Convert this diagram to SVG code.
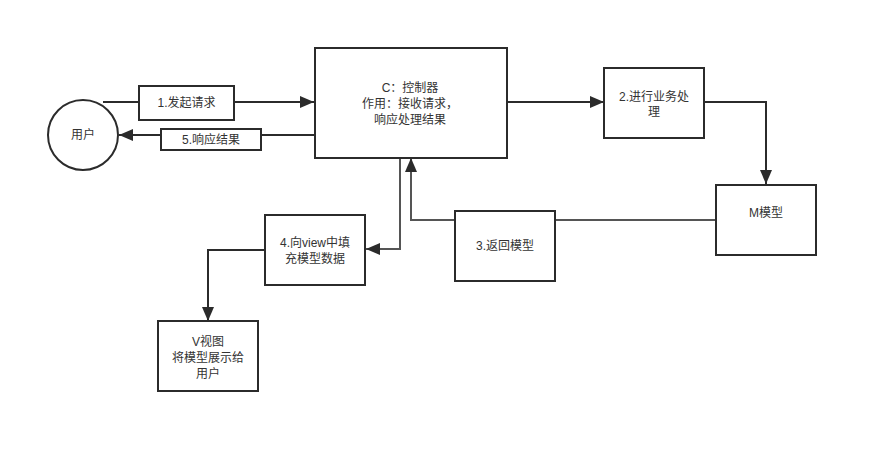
<svg xmlns="http://www.w3.org/2000/svg" width="878" height="453" viewBox="0 0 878 453">
<style>
.n{fill:#fff;stroke:#2b2b2b;stroke-width:2}
.t{font-family:"Liberation Sans","Noto Sans CJK SC",sans-serif;font-size:12px;fill:#333;text-anchor:middle}
.c{fill:none;stroke:#2b2b2b;stroke-width:2}
.g{fill:none;stroke:#555;stroke-width:2}
</style>
<defs>
<marker id="a" viewBox="0 0 10 10" refX="10" refY="5" markerWidth="7" markerHeight="7" markerUnits="userSpaceOnUse" orient="auto">
<path d="M0,0 L10,5 L0,10 z" fill="#2b2b2b"/>
</marker>
<marker id="b" viewBox="0 0 10 10" refX="10" refY="5" markerWidth="14" markerHeight="12" markerUnits="userSpaceOnUse" orient="auto" preserveAspectRatio="none">
<path d="M0,0 L10,5 L0,10 z" fill="#2b2b2b"/>
</marker>
</defs>
<rect width="878" height="453" fill="#fff"/>
<g id="connectors">
<path class="c" d="M103,102 H314" marker-end="url(#b)"/>
<path class="c" d="M314,135 H119" marker-end="url(#b)"/>
<path class="c" d="M507,102 H604" marker-end="url(#b)"/>
<path class="c" d="M704,102 H766 V184" marker-end="url(#b)"/>
<path class="g" d="M716,220 H411 V158" marker-end="url(#b)"/>
<path class="g" d="M400,158 V249 H366" marker-end="url(#b)"/>
<path class="c" d="M265,250 H208 V321" marker-end="url(#b)"/>
</g>
<g id="user">
<circle class="n" cx="83" cy="135" r="35"/>
<text class="t" x="83" y="139">用户</text>
</g>
<g id="req">
<rect class="n" x="139" y="86" width="95" height="34"/>
<text class="t" x="186.5" y="107">1.发起请求</text>
</g>
<g id="resp">
<rect class="n" x="161" y="129" width="100" height="21"/>
<text class="t" x="211" y="144">5.响应结果</text>
</g>
<g id="controller">
<rect class="n" x="315" y="48" width="192" height="110"/>
<text class="t" x="410" y="92">C：控制器</text>
<text class="t" x="410" y="108">作用：接收请求，</text>
<text class="t" x="410" y="124">响应处理结果</text>
</g>
<g id="business">
<rect class="n" x="604" y="68" width="100" height="70"/>
<text class="t" x="654" y="101">2.进行业务处</text>
<text class="t" x="654" y="116">理</text>
</g>
<g id="model">
<rect class="n" x="716" y="185" width="100" height="70"/>
<text class="t" x="766" y="217">M模型</text>
</g>
<g id="return">
<rect class="n" x="455" y="211" width="100" height="70"/>
<text class="t" x="505" y="250">3.返回模型</text>
</g>
<g id="fill">
<rect class="n" x="265" y="215" width="100" height="70"/>
<text class="t" x="315" y="247">4.向view中填</text>
<text class="t" x="315" y="263">充模型数据</text>
</g>
<g id="view">
<rect class="n" x="158" y="321" width="100" height="70"/>
<text class="t" x="208" y="346">V视图</text>
<text class="t" x="208" y="362">将模型展示给</text>
<text class="t" x="208" y="378">用户</text>
</g>
</svg>
